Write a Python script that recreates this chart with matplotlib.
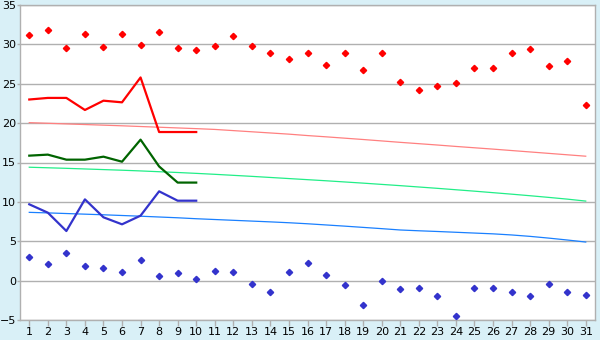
import numpy as np
import matplotlib
matplotlib.use("Agg")
import matplotlib.pyplot as plt

days = list(range(1, 32))

# record highs / lows per day
rec_max = [31.15, 31.8, 29.5, 31.27, 29.7, 31.27, 29.88, 31.53, 29.5, 29.24,
           29.75, 31.02, 29.75, 28.86, 28.1, 28.86, 27.34, 28.86, 26.7, 28.86,
           25.18, 24.16, 24.67, 25.05, 26.96, 26.96, 28.86, 29.37, 27.21, 27.85, 22.26]
rec_min = [2.95, 2.07, 3.47, 1.82, 1.56, 1.06, 2.58, 0.55, 0.93, 0.17,
           1.22, 1.06, -0.47, -1.49, 1.06, 2.2, 0.67, -0.6, -3.14, -0.09,
           -1.1, -0.98, -2.0, -4.53, -0.98, -0.98, -1.49, -2.0, -0.47, -1.49, -1.87]

# observed this month (first 10 days)
obs_days = list(range(1, 11))
obs_max = [23.0, 23.2, 23.2, 21.67, 22.85, 22.64, 25.8, 18.87, 18.87, 18.87]
obs_mean = [15.87, 16.0, 15.36, 15.36, 15.74, 15.1, 17.9, 14.5, 12.45, 12.45]
obs_min = [9.69, 8.63, 6.3, 10.32, 8.04, 7.15, 8.25, 11.34, 10.15, 10.15]

# normals
norm_max = [20.06, 19.98, 19.9, 19.82, 19.74, 19.66, 19.57, 19.48, 19.39, 19.3,
            19.2, 19.05, 18.9, 18.75, 18.6, 18.42, 18.26, 18.09, 17.92, 17.74,
            17.56, 17.39, 17.22, 17.04, 16.87, 16.7, 16.52, 16.34, 16.16, 15.98, 15.8]
norm_mean = [14.4, 14.33, 14.26, 14.18, 14.1, 14.02, 13.93, 13.83, 13.73, 13.62,
             13.5, 13.37, 13.24, 13.1, 12.96, 12.82, 12.68, 12.53, 12.38, 12.22,
             12.06, 11.89, 11.72, 11.54, 11.36, 11.17, 10.98, 10.78, 10.57, 10.35, 10.1]
norm_min = [8.67, 8.6, 8.52, 8.44, 8.36, 8.27, 8.18, 8.08, 7.98, 7.86,
            7.76, 7.66, 7.56, 7.46, 7.35, 7.22, 7.07, 6.92, 6.76, 6.6,
            6.43, 6.33, 6.24, 6.14, 6.04, 5.94, 5.8, 5.62, 5.4, 5.16, 4.9]

bg = "#d9f0f7"
grid_c = "#b0b0b0"

fig = plt.figure(figsize=(6, 3.4), dpi=100, facecolor=bg)
ax = fig.add_axes([20 / 600, 20 / 340, 575 / 600, 315 / 340])
ax.set_facecolor("white")

for y in range(-5, 36, 5):
    ax.axhline(y, color=grid_c, lw=1.0, zorder=1)

ax.plot(days, norm_max, color="#ff8080", lw=0.9, zorder=2)
ax.plot(days, norm_mean, color="#22ee88", lw=0.9, zorder=2)
ax.plot(days, norm_min, color="#1a80ff", lw=0.9, zorder=2)

ax.plot(obs_days, obs_max, color="#ff0000", lw=1.6, zorder=3)
ax.plot(obs_days, obs_mean, color="#006400", lw=1.6, zorder=3)
ax.plot(obs_days, obs_min, color="#3333cc", lw=1.6, zorder=3)

ax.plot(days, rec_max, ls="none", marker="D", ms=3.2, color="#ff0000", zorder=4)
ax.plot(days, rec_min, ls="none", marker="D", ms=3.2, color="#3333cc", zorder=4)

ax.set_xlim(0.5, 31.5)
ax.set_ylim(-5, 35)
ax.set_xticks(days)
ax.set_yticks(range(-5, 36, 5))

for s in ax.spines.values():
    s.set_color(grid_c)
    s.set_linewidth(1.0)

ax.tick_params(axis="both", colors=grid_c, labelcolor="black", labelsize=8,
               length=4, width=1, direction="out", pad=1)
ax.tick_params(axis="y", length=2)

fig.savefig("out.png", dpi=100, facecolor=bg)
